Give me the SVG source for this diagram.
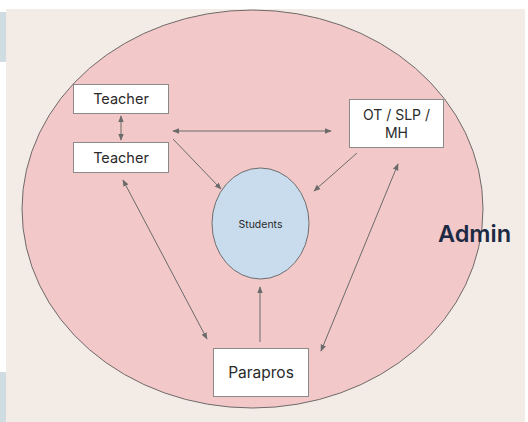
<svg xmlns="http://www.w3.org/2000/svg" width="528" height="422" viewBox="0 0 528 422">
<defs>
<marker id="ah" viewBox="0 0 10 10" refX="9" refY="5" markerWidth="7" markerHeight="7" orient="auto-start-reverse" markerUnits="userSpaceOnUse">
<path d="M0,1 L10,5 L0,9 z" fill="#6b6b6b"/>
</marker>
<style>
.box{fill:#ffffff;stroke:#8a8a8a;stroke-width:1}
.lbl{font-family:Inter,"Liberation Sans",Arial,sans-serif;fill:#2a2a2a;text-anchor:middle}
.con{stroke:#6b6b6b;stroke-width:1;fill:none}
</style>
</defs>
<rect x="0" y="0" width="528" height="422" fill="#ffffff"/>
<rect x="0" y="12" width="8" height="50" fill="#cfdde3"/>
<rect x="0" y="372" width="8" height="50" fill="#cfdde3"/>
<rect x="6" y="9" width="519" height="413" fill="#f3ebe5"/>
<g id="admin">
<ellipse cx="252.5" cy="209" rx="230.5" ry="199" fill="#f3c8c8" stroke="#6e6a6a" stroke-width="1"/>
<text x="474.5" y="242" font-family="Inter,'Liberation Sans',Arial,sans-serif" font-weight="600" font-size="23.5" fill="#1c2a44" text-anchor="middle">Admin</text>
</g>
<g id="students">
<ellipse cx="260.5" cy="223.5" rx="48.5" ry="55.5" fill="#c8dcee" stroke="#6e6e6e" stroke-width="1"/>
<text class="lbl" x="260.5" y="227.5" font-size="10.5">Students</text>
</g>
<g id="teacher1">
<rect class="box" x="73.5" y="84.5" width="95" height="29"/>
<text class="lbl" x="121" y="104" font-size="14.5">Teacher</text>
</g>
<g id="teacher2">
<rect class="box" x="73.5" y="142.5" width="95" height="30"/>
<text class="lbl" x="121" y="162.5" font-size="14.5">Teacher</text>
</g>
<g id="ot">
<rect class="box" x="349.5" y="99.5" width="94" height="48"/>
<text class="lbl" x="396.5" y="119.5" font-size="14">OT / SLP /</text>
<text class="lbl" x="396.5" y="138" font-size="14">MH</text>
</g>
<g id="parapros">
<rect class="box" x="213.5" y="348.5" width="95" height="48"/>
<text class="lbl" x="261" y="378" font-size="15.5">Parapros</text>
</g>
<g id="connectors">
<line class="con" x1="121" y1="116" x2="121" y2="140" marker-start="url(#ah)" marker-end="url(#ah)"/>
<line class="con" x1="173" y1="131" x2="331" y2="131" marker-start="url(#ah)" marker-end="url(#ah)"/>
<line class="con" x1="173" y1="139" x2="221" y2="189" marker-end="url(#ah)"/>
<line class="con" x1="357" y1="153" x2="314" y2="191" marker-end="url(#ah)"/>
<line class="con" x1="123" y1="180" x2="207" y2="339" marker-start="url(#ah)" marker-end="url(#ah)"/>
<line class="con" x1="398" y1="164" x2="321" y2="351" marker-start="url(#ah)" marker-end="url(#ah)"/>
<line class="con" x1="260" y1="342" x2="260" y2="287" marker-end="url(#ah)"/>
</g>
</svg>
